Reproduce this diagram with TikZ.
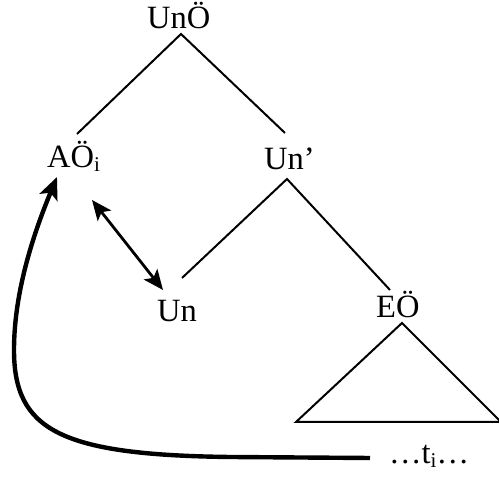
\documentclass[tikz,border=0pt]{standalone}
\usepackage{fontspec}
\setmainfont{Liberation Serif}
\usetikzlibrary{arrows.meta}
\tikzset{
  lbl/.style={inner sep=0pt, anchor=base west, font=\fontsize{32.5}{38}\selectfont},
  branch/.style={line width=2pt},
  dblarrow/.style={line width=2.8pt, {Stealth[length=20pt,width=17pt,inset=4.5pt]}-{Stealth[length=20pt,width=17pt,inset=4.5pt]}},
  movearrow/.style={line width=4.4pt, -{Stealth[length=22pt,width=19pt,inset=5pt]}}
}
\newcommand{\subi}{\raisebox{-4pt}{\fontsize{21}{21}\selectfont i}}
\begin{document}
\begin{tikzpicture}[x=1pt,y=1pt]
\useasboundingbox (0,0) rectangle (499,481);
% labels
\node[lbl] (top) at (147,452) {UnÖ};
\node[lbl] (ao) at (47,313) {AÖ\subi};
\node[lbl] (unp) at (264,311) {Un’};
\node[lbl] (un) at (157,159) {Un};
\node[lbl] (eo) at (376,163) {EÖ};
\node[lbl] (trace) at (389,17) {…t\subi…};
% branch points
\coordinate (apexA) at (181,447);
\coordinate (endAL) at (77,347);
\coordinate (endAR) at (285,348);
\coordinate (apexB) at (287,302);
\coordinate (endBL) at (182,203);
\coordinate (endBR) at (390,191);
\coordinate (triT) at (402,158);
\coordinate (triL) at (296,59);
\coordinate (triR) at (501,59);
\draw[branch] (endAL) -- (apexA) -- (endAR);
\draw[branch] (endBL) -- (apexB) -- (endBR);
\draw[branch] (triT) -- (triL) -- (triR) -- cycle;
% double arrow
\coordinate (dA) at (92,281);
\coordinate (dB) at (163,191);
\draw[dblarrow] (dA) -- (dB);
% movement arrow
\coordinate (mStart) at (370,23);
\coordinate (mMid) at (230,24);
\coordinate (mLow) at (14,131);
\coordinate (mTip) at (57,304);
\draw[movearrow] (mStart) -- (mMid) .. controls (60,26) and (14,51) .. (mLow) .. controls (14,191) and (35,251) .. (mTip);
\end{tikzpicture}
\end{document}
